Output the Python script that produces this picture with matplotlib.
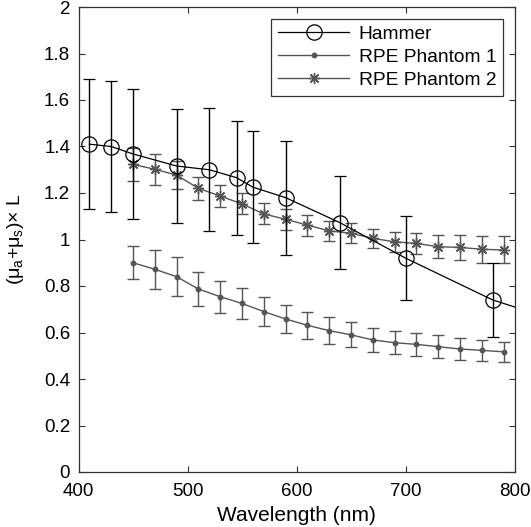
import numpy as np
import matplotlib.pyplot as plt

plt.rcParams["font.family"] = ["Liberation Sans", "DejaVu Sans"]
plt.rcParams["mathtext.fontset"] = "custom"
plt.rcParams["mathtext.rm"] = "Liberation Sans"

# Hammer reference data (last point lies just beyond the axis)
hammer_wl = [410, 430, 450, 490, 520, 545, 560, 590, 640, 700, 780, 830]
hammer_val = [1.41, 1.40, 1.368, 1.316, 1.30, 1.266, 1.225, 1.18, 1.072, 0.92, 0.74, 0.665]
hammer_err = [0.28, 0.28, 0.28, 0.245, 0.265, 0.245, 0.24, 0.245, 0.20, 0.18, 0.158, 0.15]

phantom_wl = list(range(450, 800, 20))
phantom1_val = [0.90, 0.872, 0.84, 0.787, 0.754, 0.725, 0.69, 0.658, 0.631, 0.608,
                0.59, 0.568, 0.556, 0.549, 0.539, 0.529, 0.523, 0.517]
phantom1_err = [0.07, 0.083, 0.083, 0.072, 0.068, 0.066, 0.064, 0.062, 0.059, 0.057,
                0.054, 0.052, 0.05, 0.05, 0.049, 0.048, 0.046, 0.044]
phantom2_val = [1.323, 1.302, 1.277, 1.22, 1.187, 1.153, 1.11, 1.087, 1.062, 1.037,
                1.027, 1.005, 0.99, 0.983, 0.969, 0.966, 0.958, 0.955]
phantom2_err = [0.07, 0.066, 0.06, 0.05, 0.047, 0.045, 0.045, 0.045, 0.045, 0.043,
                0.042, 0.042, 0.042, 0.046, 0.05, 0.053, 0.057, 0.058]

fig = plt.figure(figsize=(5.31, 5.27), dpi=100)
ax = fig.add_axes([78.5 / 531, 55 / 527, 436 / 531, 465 / 527])

gray = "#555555"
eb1 = ax.errorbar(phantom_wl, phantom1_val, yerr=phantom1_err,
                  color=gray, lw=1.0, elinewidth=1.0, capsize=4.5, capthick=1.0,
                  marker="o", ms=3.2, zorder=2)
eb2 = ax.errorbar(phantom_wl, phantom2_val, yerr=phantom2_err,
                  color=gray, lw=1.0, elinewidth=1.0, capsize=4.5, capthick=1.0,
                  marker=(8, 2, 0), ms=8, mew=1.0, zorder=2)
ebh = ax.errorbar(hammer_wl, hammer_val, yerr=hammer_err,
                  color="black", lw=0.9, elinewidth=1.0, capsize=4.5, capthick=1.0,
                  marker="o", ms=11, mfc="none", mew=0.9, zorder=3)

ax.set_xlim(400, 800)
ax.set_ylim(0, 2)
ax.set_xticks([400, 500, 600, 700, 800])
ax.set_yticks(np.arange(0, 2.01, 0.2))
ax.set_yticklabels(["0", "0.2", "0.4", "0.6", "0.8", "1", "1.2", "1.4", "1.6", "1.8", "2"])
ax.tick_params(direction="in", top=True, right=True, length=4, width=0.8,
               labelsize=13.5, colors="#333333", labelcolor="black", pad=6)
ax.tick_params(axis="x", pad=8)
for s in ax.spines.values():
    s.set_color("#333333")
    s.set_linewidth(0.9)

ax.set_xlabel("Wavelength (nm)", fontsize=15, labelpad=4)
ax.set_ylabel("(μ$_\\mathrm{a}$+μ$_\\mathrm{s}$)× L", fontsize=14, labelpad=13)

leg = ax.legend([ebh[0], eb1[0], eb2[0]], ["Hammer", "RPE Phantom 1", "RPE Phantom 2"],
                loc="upper right", fontsize=13.8, fancybox=False, framealpha=1,
                edgecolor="#333333", borderaxespad=0.6, handlelength=3.7,
                handletextpad=0.5, labelspacing=0.3, borderpad=0.35)
leg.get_frame().set_linewidth(0.9)

fig.savefig("out.png", dpi=100)
